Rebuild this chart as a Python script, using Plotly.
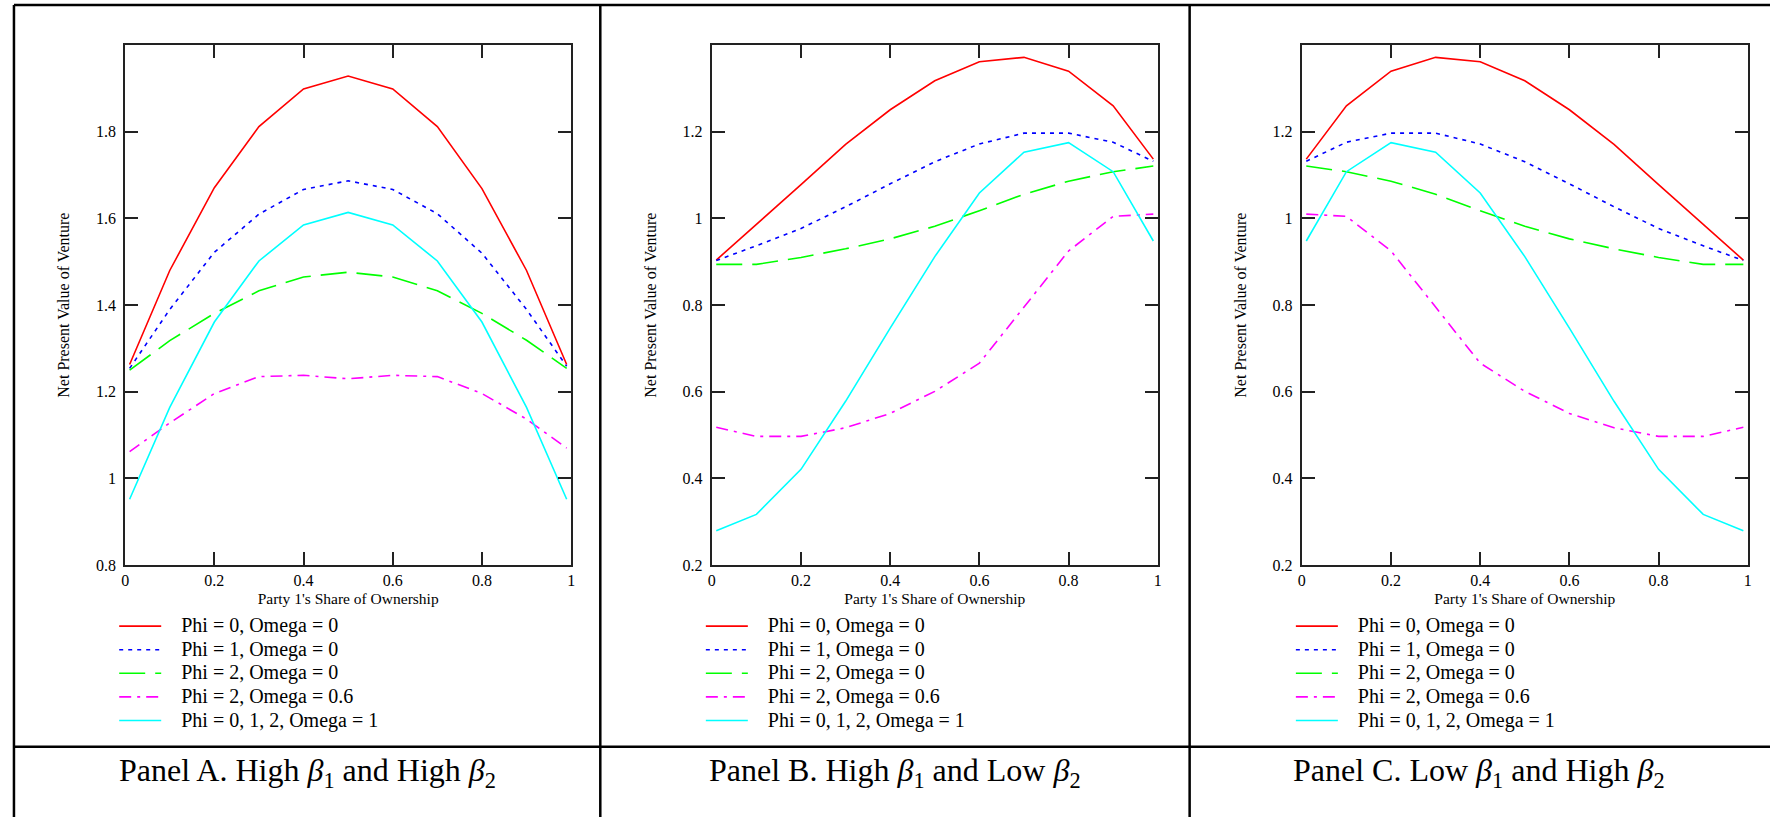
import plotly.graph_objects as go

W, H = 1774, 826

# x positions (Party 1's share of ownership)
share = [0.01, 0.1, 0.2, 0.3, 0.4, 0.5, 0.6, 0.7, 0.8, 0.9, 0.99]

series_names = [
    "Phi = 0, Omega = 0",
    "Phi = 1, Omega = 0",
    "Phi = 2, Omega = 0",
    "Phi = 2, Omega = 0.6",
    "Phi = 0, 1, 2, Omega = 1",
]

# Panel A: High beta1 and High beta2
a_phi0 = [1.263, 1.480, 1.671, 1.812, 1.899, 1.929, 1.899, 1.812, 1.669, 1.480, 1.263]
a_phi1 = [1.254, 1.390, 1.522, 1.610, 1.667, 1.687, 1.667, 1.611, 1.520, 1.390, 1.259]
a_phi2 = [1.250, 1.318, 1.381, 1.433, 1.465, 1.476, 1.465, 1.433, 1.381, 1.319, 1.254]
a_phi2_om06 = [1.062, 1.128, 1.196, 1.235, 1.238, 1.230, 1.238, 1.235, 1.196, 1.137, 1.070]
a_om1 = [0.952, 1.164, 1.361, 1.502, 1.585, 1.614, 1.585, 1.502, 1.361, 1.164, 0.952]

# Panel B: High beta1 and Low beta2
b_phi0 = [0.904, 0.986, 1.078, 1.171, 1.251, 1.318, 1.362, 1.372, 1.340, 1.260, 1.137]
b_phi1 = [0.903, 0.937, 0.977, 1.027, 1.080, 1.131, 1.172, 1.197, 1.197, 1.176, 1.132]
b_phi2 = [0.894, 0.894, 0.910, 0.930, 0.953, 0.982, 1.018, 1.056, 1.086, 1.108, 1.121]
b_phi2_om06 = [0.518, 0.497, 0.497, 0.517, 0.550, 0.601, 0.666, 0.795, 0.925, 1.005, 1.010]
b_om1 = [0.279, 0.317, 0.421, 0.578, 0.747, 0.912, 1.059, 1.153, 1.175, 1.108, 0.948]

# Panel C: Low beta1 and High beta2
c_phi0 = [1.137, 1.260, 1.340, 1.372, 1.362, 1.318, 1.251, 1.171, 1.078, 0.986, 0.904]
c_phi1 = [1.132, 1.176, 1.197, 1.197, 1.172, 1.131, 1.080, 1.027, 0.977, 0.937, 0.903]
c_phi2 = [1.121, 1.108, 1.086, 1.056, 1.018, 0.982, 0.953, 0.930, 0.910, 0.894, 0.894]
c_phi2_om06 = [1.010, 1.005, 0.925, 0.795, 0.666, 0.601, 0.550, 0.517, 0.497, 0.497, 0.518]
c_om1 = [0.948, 1.108, 1.175, 1.153, 1.059, 0.912, 0.747, 0.578, 0.421, 0.317, 0.279]

x_tickvals = [0, 0.2, 0.4, 0.6, 0.8, 1]
x_ticktext = ["0", "0.2", "0.4", "0.6", "0.8", "1"]
ya_tickvals = [0.8, 1.0, 1.2, 1.4, 1.6, 1.8]
ya_ticktext = ["0.8", "1", "1.2", "1.4", "1.6", "1.8"]
yb_tickvals = [0.2, 0.4, 0.6, 0.8, 1.0, 1.2]
yb_ticktext = ["0.2", "0.4", "0.6", "0.8", "1", "1.2"]

panel_titles = [
    "Panel A. High <i>β</i><sub>1</sub> and High <i>β</i><sub>2</sub>",
    "Panel B. High <i>β</i><sub>1</sub> and Low <i>β</i><sub>2</sub>",
    "Panel C. Low <i>β</i><sub>1</sub> and High <i>β</i><sub>2</sub>",
]

colors = ["#ff0000", "#0000ff", "#00ff00", "#ff00ff", "#00ffff"]
dashes = ["solid", "4px,5px", "26px,10px", "12px,6px,3px,6px", "solid"]

FONT = "Liberation Serif, Times New Roman, serif"

panels = [
    ([a_phi0, a_phi1, a_phi2, a_phi2_om06, a_om1], "", "legend"),
    ([b_phi0, b_phi1, b_phi2, b_phi2_om06, b_om1], "2", "legend2"),
    ([c_phi0, c_phi1, c_phi2, c_phi2_om06, c_om1], "3", "legend3"),
]

fig = go.Figure()
for series, sfx, leg in panels:
    for name, ys, col, dsh in zip(series_names, series, colors, dashes):
        fig.add_trace(go.Scatter(
            x=share, y=ys, mode="lines",
            name='<span style="font-size:20px">&nbsp;&nbsp;&nbsp;' + name + "</span>",
            line=dict(color=col, width=1.6, dash=dsh),
            xaxis="x" + sfx, yaxis="y" + sfx, legend=leg, showlegend=True,
        ))


def px_x(p):
    return p / W


def px_y(p):
    return 1 - p / H


plot_left = [121.7, 711.0, 1303.7]
plot_w = 448.0
y_dom = [px_y(571.3), px_y(45.7)]

axis_common = dict(
    showline=True, linecolor="#222222", linewidth=2, mirror="ticks",
    ticks="inside", ticklen=13, tickwidth=2, tickcolor="#222222",
    showgrid=False, zeroline=False,
    tickfont=dict(family=FONT, size=16, color="black"),
)

layout = dict(
    width=W, height=H, margin=dict(l=0, r=0, t=0, b=0),
    paper_bgcolor="white", plot_bgcolor="white",
    font=dict(family=FONT, color="black"),
)

for i, sfx in enumerate(["", "2", "3"]):
    xl = plot_left[i]
    xa = dict(axis_common, domain=[px_x(xl), px_x(xl + plot_w)], range=[0, 1],
              tickvals=x_tickvals, ticktext=x_ticktext, anchor="y" + sfx,
              title=dict(text="Party 1's Share of Ownership",
                         font=dict(family=FONT, size=15.5, color="black"), standoff=5))
    if i == 0:
        yr, tv, tt = [0.8, 2.0], ya_tickvals, ya_ticktext
    else:
        yr, tv, tt = [0.2, 1.4], yb_tickvals, yb_ticktext
    ya = dict(axis_common, domain=y_dom, range=yr, tickvals=tv, ticktext=tt,
              anchor="x" + sfx, ticklabelstandoff=4,
              title=dict(text="Net Present Value of Venture",
                         font=dict(family=FONT, size=16, color="black"), standoff=22))
    layout["xaxis" + sfx] = xa
    layout["yaxis" + sfx] = ya
    leg = "legend" if sfx == "" else "legend" + sfx
    layout[leg] = dict(
        x=px_x(xl - 11), y=px_y(616), xanchor="left", yanchor="top",
        bgcolor="rgba(0,0,0,0)", borderwidth=0, itemwidth=42,
        font=dict(family=FONT, size=15.85, color="black"),
        tracegroupgap=0, itemclick=False, itemdoubleclick=False,
    )

fig.update_layout(**layout)

# panel captions
for cx, txt in zip([304.5, 895.0, 1482.0], panel_titles):
    fig.add_annotation(x=px_x(cx), y=px_y(781), xref="paper", yref="paper",
                       text=txt, showarrow=False, xanchor="center", yanchor="middle",
                       font=dict(family=FONT, size=32, color="black"))

# table borders
bw = 2.5
lines = [
    (10, 5, W, 5),
    (10, 5, 10, H),
    (599, 5, 599, H),
    (1191, 5, 1191, H),
    (10, 755, W, 755),
]
for x0, y0, x1, y1 in lines:
    fig.add_shape(type="line", xref="paper", yref="paper",
                  x0=px_x(x0), y0=px_y(y0), x1=px_x(x1), y1=px_y(y1),
                  line=dict(color="black", width=bw))

fig.write_html(
    "out.html", config={"displayModeBar": False},
    post_script=(
        "document.documentElement.style.overflow='hidden';"
        "document.body.style.overflow='hidden';"
        "document.body.style.margin='0px';"
    ),
)
